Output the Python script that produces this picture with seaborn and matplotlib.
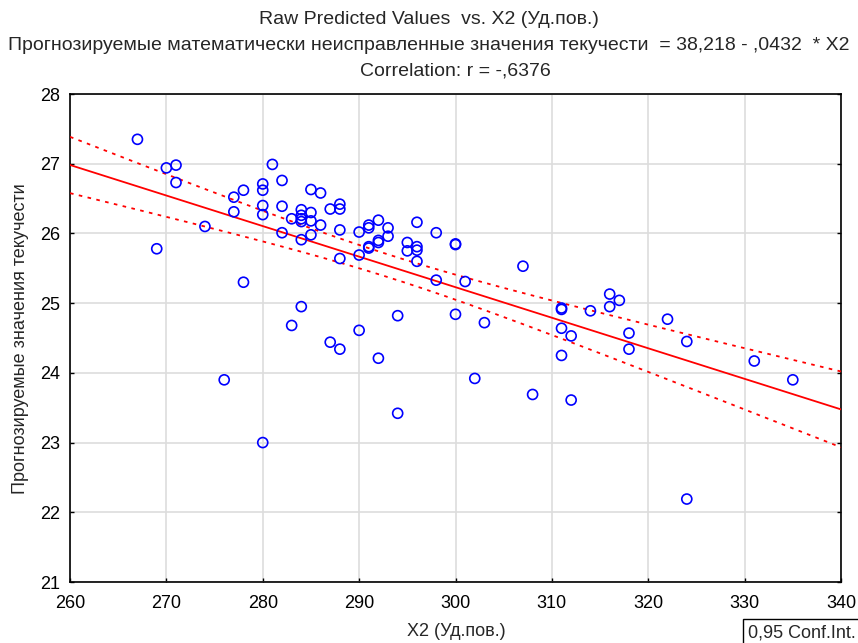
import numpy as np
import pandas as pd
import matplotlib
matplotlib.use("Agg")
import matplotlib.pyplot as plt
import seaborn as sns
from matplotlib.patches import Rectangle

# ---- data ----
x2 = [267, 270, 271, 271, 269, 274, 278, 276, 280, 281,
      282, 280, 280, 278, 277, 277, 280, 280, 282, 282,
      283, 283, 284, 284, 284, 284, 284, 284, 285, 285,
      285, 285, 286, 286, 287, 287, 288, 288, 288, 288,
      288, 290, 290, 290, 291, 291, 291, 291, 292, 292,
      292, 292, 293, 293, 294, 294, 295, 295, 296, 296,
      296, 296, 298, 298, 300, 300, 300, 301, 302, 303,
      307, 308, 311, 311, 311, 311, 312, 312, 314, 316,
      316, 317, 318, 318, 322, 324, 324, 331, 335]
pred = [27.35, 26.94, 26.98, 26.73, 25.78, 26.10, 25.30, 23.90, 23.00, 26.99,
        26.76, 26.71, 26.62, 26.62, 26.52, 26.31, 26.40, 26.27, 26.39, 26.01,
        26.21, 24.68, 26.34, 26.26, 26.21, 26.17, 25.91, 24.95, 26.63, 26.30,
        26.18, 25.98, 26.58, 26.12, 26.35, 24.44, 26.42, 26.35, 26.05, 25.64,
        24.34, 26.02, 25.69, 24.61, 26.12, 26.08, 25.81, 25.79, 26.19, 25.90,
        25.87, 24.21, 26.08, 25.96, 24.82, 23.42, 25.87, 25.75, 26.16, 25.81,
        25.76, 25.60, 26.01, 25.33, 25.85, 25.84, 24.84, 25.31, 23.92, 24.72,
        25.53, 23.69, 24.93, 24.91, 24.64, 24.25, 24.53, 23.61, 24.89, 25.13,
        24.95, 25.04, 24.57, 24.34, 24.77, 24.45, 22.19, 24.17, 23.90]

x_ticks = [260, 270, 280, 290, 300, 310, 320, 330, 340]
y_ticks = [21, 22, 23, 24, 25, 26, 27, 28]

title1 = "Raw Predicted Values  vs. X2 (Уд.пов.)"
title2 = "Прогнозируемые математически неисправленные значения текучести  = 38,218 - ,0432  * X2"
title3 = "Correlation: r = -,6376"
xlabel = "X2 (Уд.пов.)"
ylabel = "Прогнозируемые значения текучести"
legend_text = "0,95 Conf.Int."

# ---- fit and 95% confidence interval of the regression line ----
xa = np.asarray(x2, float)
ya = np.asarray(pred, float)
n = len(xa)
b, a = np.polyfit(xa, ya, 1)
res = ya - (a + b * xa)
s = np.sqrt(np.sum(res ** 2) / (n - 2))
sxx = np.sum((xa - xa.mean()) ** 2)
t = 1.987
xx = np.linspace(x_ticks[0], x_ticks[-1], 200)
yy = a + b * xx
half = t * s * np.sqrt(1.0 / n + (xx - xa.mean()) ** 2 / sxx)
fit = pd.DataFrame({"x": xx, "fit": yy, "lo": yy - half, "hi": yy + half})
df = pd.DataFrame({"x2": x2, "pred": pred})

# ---- drawing ----
sns.set_style("white")
plt.rcParams["font.family"] = ["Liberation Sans", "DejaVu Sans"]

W, H = 858, 643
fig = plt.figure(figsize=(W / 100, H / 100), dpi=100)
ax = fig.add_axes([70 / W, 1 - 582 / H, (841 - 70) / W, (582 - 94) / H])

sns.lineplot(data=fit, x="x", y="fit", ax=ax, color="#ff0000", lw=1.3, zorder=3)
sns.lineplot(data=fit, x="x", y="hi", ax=ax, color="#ff0000", lw=1.3,
             dashes=False, zorder=3).lines[-1].set_linestyle((0, (2, 3)))
sns.lineplot(data=fit, x="x", y="lo", ax=ax, color="#ff0000", lw=1.3,
             dashes=False, zorder=3).lines[-1].set_linestyle((0, (2, 3)))
sns.scatterplot(data=df, x="x2", y="pred", ax=ax, marker="o", s=52,
                facecolor="none", edgecolor="#0000ff", linewidth=1.2, zorder=4)

ax.set_xlim(x_ticks[0], x_ticks[-1])
ax.set_ylim(y_ticks[0], y_ticks[-1])
ax.set_xticks(x_ticks)
ax.set_yticks(y_ticks)
ax.grid(True, color="#dddddd", lw=1.2)
ax.set_axisbelow(True)
for sp in ax.spines.values():
    sp.set_color("black")
    sp.set_linewidth(1.2)
    sp.set_visible(True)
ax.tick_params(direction="in", length=3, width=1, colors="black",
               labelsize=13, right=True, top=False, bottom=True, left=True,
               labelright=False)
ax.tick_params(axis="y", pad=7)
ax.tick_params(axis="x", pad=9)
ax.set_xlabel("")
ax.set_ylabel("")

fig.text(429 / W, 1 - 20 / H, title1, ha="center", va="center", fontsize=14)
fig.text(429 / W, 1 - 45 / H, title2, ha="center", va="center", fontsize=14)
fig.text(455 / W, 1 - 71 / H, title3, ha="center", va="center", fontsize=14)
fig.text(456 / W, 1 - 632 / H, xlabel, ha="center", va="center", fontsize=13)
fig.text(21 / W, 1 - 339 / H, ylabel, ha="center", va="center", rotation=90, fontsize=13)

fig.patches.append(Rectangle((743 / W, 1 - 660 / H), 140 / W, 41 / H,
                             transform=fig.transFigure, facecolor="white",
                             edgecolor="black", lw=1.0))
fig.text(748 / W, 1 - 633 / H, legend_text, ha="left", va="center", fontsize=13)

fig.savefig("out.png", dpi=100)
